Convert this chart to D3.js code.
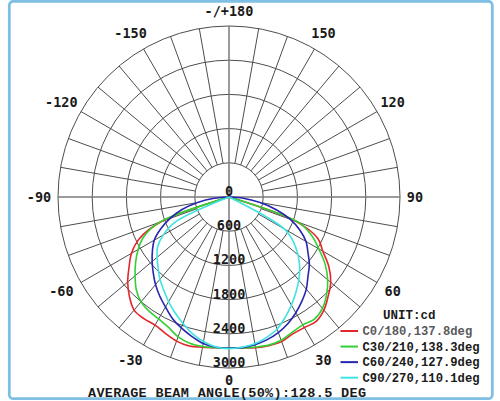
<!DOCTYPE html>
<html>
<head>
<meta charset="utf-8">
<script src="https://cdn.jsdelivr.net/npm/d3@7/dist/d3.min.js"></script>
<style>
  html, body { margin: 0; padding: 0; background: #fff; }
  svg { display: block; }
</style>
</head>
<body>
<svg id="chart" width="500" height="401"></svg>
<script>
// ---------------- DATA ----------------
const gammaAngles = [0, 5, 10, 15, 20, 25, 30, 35, 40, 45, 50, 55, 60, 65, 70, 75, 80, 85, 90];

// intensities (cd) on the right half (positive angles) and left half (negative angles)
const c0Right   = [2650, 2660, 2685, 2700, 2700, 2650, 2645, 2665, 2590, 2460, 2330, 2140, 1900, 1720, 1250, 0, 0, 0, 0];
const c180Left  = [2650, 2655, 2675, 2705, 2690, 2640, 2595, 2605, 2590, 2470, 2320, 2140, 1975, 1740, 1270, 0, 0, 0, 0];
const c30Right  = [2650, 2660, 2672, 2690, 2675, 2620, 2590, 2615, 2550, 2420, 2260, 2060, 1820, 1600, 1300, 0, 0, 0, 0];
const c210Left  = [2650, 2655, 2662, 2655, 2610, 2520, 2470, 2445, 2400, 2300, 2150, 2000, 1840, 1650, 1300, 0, 0, 0, 0];
const c60Right  = [2650, 2652, 2630, 2590, 2530, 2450, 2345, 2230, 2110, 1960, 1840, 1690, 1560, 1370, 1140, 860, 540, 250, 0];
const c240Left  = [2650, 2645, 2610, 2530, 2445, 2350, 2228, 2120, 2005, 1880, 1760, 1640, 1515, 1320, 1100, 860, 560, 260, 0];
const c90Right  = [2650, 2645, 2615, 2550, 2465, 2330, 2190, 2045, 1905, 1755, 1580, 1385, 1120, 0, 0, 0, 0, 0, 0];
const c270Left  = [2660, 2640, 2575, 2480, 2360, 2240, 2120, 1995, 1885, 1760, 1645, 1530, 1330, 1050, 0, 0, 0, 0, 0];

const seriesNames  = ["C0/180,137.8deg", "C30/210,138.3deg", "C60/240,127.9deg", "C90/270,110.1deg"];
const seriesRight  = [c0Right, c30Right, c60Right, c90Right];
const seriesLeft   = [c180Left, c210Left, c240Left, c270Left];
const seriesColors = ["#e3262b", "#33cf33", "#2626b0", "#40e3e3"];

const ringTicks   = [0, 600, 1200, 1800, 2400, 3000];
const angleLabels = [0, 30, 60, 90, 120, 150, 180, -150, -120, -90, -60, -30];
const angleLabelText = v => v === 180 ? "-/+180" : String(v);
const unitText  = "UNIT:cd";
const titleText = "AVERAGE BEAM ANGLE(50%):128.5 DEG";

// ---------------- LAYOUT ----------------
const svg = d3.select("#chart");
const cx = 229, cy = 197, R = 171;
const rScale = d3.scaleLinear().domain([0, 3000]).range([0, R]);
const deg = d3.scaleLinear().domain([0, 180]).range([0, Math.PI]);

// frame
svg.append("rect")
  .attr("x", 9.3).attr("y", 1.3).attr("width", 483).attr("height", 397.4)
  .attr("rx", 4).attr("fill", "#fff")
  .attr("stroke", "#7fbfe3").attr("stroke-width", 2.8);

const g = svg.append("g").attr("transform", `translate(${cx},${cy})`);

// point position for polar angle gamma (0 = down) on side s (+1 right, -1 left)
const pos = (gam, s, r) => [s * r * Math.sin(deg(gam)), r * Math.cos(deg(gam))];

// rings
g.selectAll("circle.ring").data(ringTicks.filter(d => d > 0)).enter().append("circle")
  .attr("class", "ring").attr("r", d => rScale(d))
  .attr("fill", "none").attr("stroke", "#4d4d4d").attr("stroke-width", 1);

// spokes every 10 degrees
const spokes = d3.range(0, 360, 10);
g.selectAll("line.spoke").data(spokes).enter().append("line")
  .attr("class", "spoke")
  .each(function (a) {
    const main = a % 90 === 0;
    const r0 = main ? 0 : rScale(600);
    const p0 = pos(a, 1, r0), p1 = pos(a, 1, R);
    d3.select(this)
      .attr("x1", p0[0]).attr("y1", p0[1]).attr("x2", p1[0]).attr("y2", p1[1])
      .attr("stroke", main ? "#7a7a7a" : "#4d4d4d")
      .attr("stroke-width", main ? 1.5 : 1);
  });

// curves
const radial = d3.lineRadial()
  .angle(d => d.s > 0 ? Math.PI - deg(d.g) : Math.PI + deg(d.g))
  .radius(d => rScale(d.v))
  .curve(d3.curveCatmullRom.alpha(0.5));

function halfPoints(vals, s) {
  const pts = [];
  for (let i = 0; i < gammaAngles.length; i++) {
    if (vals[i] > 0) pts.push({ g: gammaAngles[i], v: vals[i], s });
    else { pts.push({ g: gammaAngles[i], v: 0, s }); break; }
  }
  return pts;
}

seriesNames.forEach((name, i) => {
  const left = halfPoints(seriesLeft[i], -1).reverse();
  const right = halfPoints(seriesRight[i], 1).slice(1);
  const pts = left.concat(right);
  g.append("path")
    .attr("d", radial(pts))
    .attr("fill", "none")
    .attr("stroke", seriesColors[i])
    .attr("stroke-width", 1.6)
    .attr("stroke-linejoin", "round");
});

// ring labels
g.selectAll("text.ringlab").data(ringTicks).enter().append("text")
  .attr("class", "ringlab")
  .attr("x", 0).attr("y", d => rScale(d) - 1)
  .attr("text-anchor", "middle")
  .attr("font-family", "'DejaVu Sans Mono', monospace")
  .attr("font-weight", "bold").attr("font-size", 13.5).attr("fill", "#1a1a1a")
  .text(d => d);

// angle labels
g.selectAll("text.anglab").data(angleLabels).enter().append("text")
  .attr("class", "anglab")
  .each(function (v) {
    const gam = Math.abs(v), s = v < 0 ? -1 : 1;
    const L = gam === 0 ? 183.5 : ((gam % 90 === 0) ? 186 : 189);
    const p = pos(gam, s, L);
    const shift = (v < 0) ? -4 : 0;
    d3.select(this).attr("x", p[0] + shift).attr("y", p[1] + 4.8);
  })
  .attr("text-anchor", "middle")
  .attr("font-family", "'DejaVu Sans Mono', monospace")
  .attr("font-weight", "bold").attr("font-size", 13.5).attr("fill", "#1a1a1a")
  .text(angleLabelText);

// legend
svg.append("text")
  .attr("x", 383).attr("y", 318.5)
  .attr("font-family", "'Liberation Mono', monospace")
  .attr("font-weight", "bold").attr("font-size", 12.5).attr("fill", "#1a1a1a")
  .text(unitText);

const legY = d3.scalePoint().domain(seriesNames).range([331, 377.7]);
const leg = svg.selectAll("g.leg").data(seriesNames).enter().append("g")
  .attr("class", "leg").attr("transform", d => `translate(0,${legY(d)})`);
leg.append("line")
  .attr("x1", 340.5).attr("x2", 358).attr("y1", 0).attr("y2", 0)
  .attr("stroke", (d, i) => seriesColors[i]).attr("stroke-width", 2);
leg.append("text")
  .attr("x", 362.5).attr("y", 4.3)
  .attr("font-family", "'Liberation Mono', monospace")
  .attr("font-weight", "bold").attr("font-size", 12.2)
  .attr("fill", (d, i) => i === 0 ? "#5a5a5a" : "#1a1a1a")
  .text(d => d);

// title
svg.append("text")
  .attr("x", 227).attr("y", 397)
  .attr("text-anchor", "middle")
  .attr("font-family", "'Liberation Mono', monospace")
  .attr("font-weight", "bold").attr("font-size", 13.5).attr("fill", "#1a1a1a")
  .attr("textLength", 278).attr("lengthAdjust", "spacing")
  .text(titleText);
</script>
</body>
</html>
